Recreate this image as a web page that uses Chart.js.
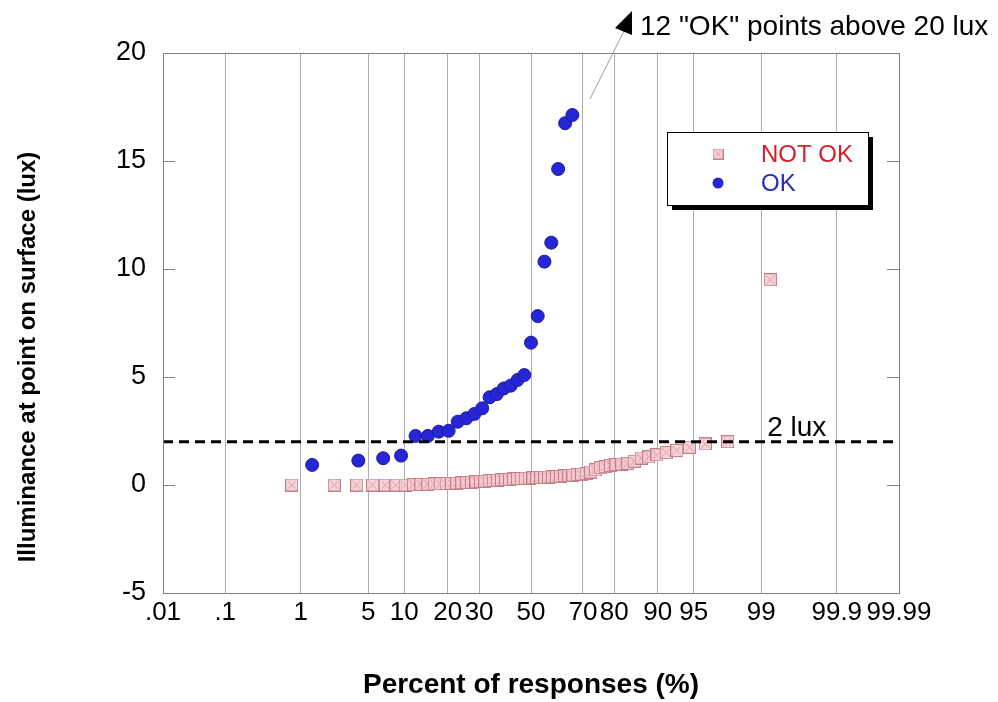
<!DOCTYPE html>
<html>
<head>
<meta charset="utf-8">
<script src="https://cdn.jsdelivr.net/npm/chart.js@4.4.1/dist/chart.umd.min.js"></script>
<style>
  html, body { margin: 0; padding: 0; background: #fff; }
  #wrap { width: 998px; height: 702px; }
</style>
</head>
<body>
<div id="wrap"><canvas id="chart" width="998" height="702"></canvas></div>
<script>
// ===============================
// DATA
// ===============================
const xTickPercents = [0.01, 0.1, 1, 5, 10, 20, 30, 50, 70, 80, 90, 95, 99, 99.9, 99.99];
const xTickLabels   = [".01", ".1", "1", "5", "10", "20", "30", "50", "70", "80", "90", "95", "99", "99.9", "99.99"];
const yTicks = [-5, 0, 5, 10, 15, 20];

// "NOT OK" responses (percent rank, lux)
const notOkPct = [
  0.78, 2.34, 3.91, 5.47, 7.03, 8.59, 10.16, 11.72, 13.28, 14.84,
  16.41, 17.97, 19.53, 21.09, 22.66, 24.22, 25.78, 27.34, 28.91, 30.47,
  32.03, 33.59, 35.16, 36.72, 38.28, 39.84, 41.41, 42.97, 44.53, 46.09,
  47.66, 49.22, 50.78, 52.34, 53.91, 55.47, 57.03, 58.59, 60.16, 61.72,
  63.28, 64.84, 66.41, 67.97, 69.53, 71.09, 72.66, 74.22, 75.78, 77.34,
  78.91, 80.47, 82.03, 83.59, 85.16, 86.72, 88.28, 89.84, 91.41, 92.97,
  94.53, 96.09, 97.66, 99.22
];
const notOkLux = [
  0, 0, 0, 0, 0, 0, 0, 0.02, 0.03, 0.04,
  0.05, 0.06, 0.07, 0.08, 0.09, 0.10, 0.12, 0.13, 0.15, 0.17,
  0.18, 0.20, 0.21, 0.22, 0.24, 0.25, 0.26, 0.28, 0.29, 0.30,
  0.31, 0.32, 0.33, 0.34, 0.35, 0.36, 0.37, 0.38, 0.39, 0.40,
  0.42, 0.44, 0.46, 0.48, 0.50, 0.53, 0.60, 0.70, 0.80, 0.85,
  0.90, 0.95, 0.97, 1.00, 1.10, 1.25, 1.30, 1.40, 1.50, 1.60,
  1.75, 1.90, 2.00, 9.50
];

// "OK" responses (12 more points above 20 lux are off the chart)
const okPct = [
  1.35, 4.05, 6.76, 9.46, 12.16, 14.86, 17.57, 20.27, 22.97, 25.68,
  28.38, 31.08, 33.78, 36.49, 39.19, 41.89, 44.59, 47.30, 50.00, 52.70,
  55.41, 58.11, 60.81, 63.51, 66.22
];
const okLux = [
  0.93, 1.13, 1.24, 1.36, 2.27, 2.27, 2.47, 2.51, 2.93, 3.09,
  3.29, 3.55, 4.06, 4.21, 4.47, 4.60, 4.86, 5.09, 6.59, 7.82,
  10.34, 11.22, 14.63, 16.75, 17.13
];

const thresholdLux = 2;

// ===============================
// HELPERS
// ===============================
// inverse normal CDF (Acklam) -> probability scale
function zOf(pct) {
  const p = pct / 100;
  const a = [-3.969683028665376e+01, 2.209460984245205e+02, -2.759285104469687e+02, 1.383577518672690e+02, -3.066479806614716e+01, 2.506628277459239e+00];
  const b = [-5.447609879822406e+01, 1.615858368580409e+02, -1.556989798598866e+02, 6.680131188771972e+01, -1.328068155288572e+01];
  const c = [-7.784894002430293e-03, -3.223964580411365e-01, -2.400758277161838e+00, -2.549732539343734e+00, 4.374664141464968e+00, 2.938163982698783e+00];
  const d = [7.784695709041462e-03, 3.224671290700398e-01, 2.445134137142996e+00, 3.754408661907416e+00];
  const pl = 0.02425;
  let q, r;
  if (p < pl) {
    q = Math.sqrt(-2 * Math.log(p));
    return (((((c[0]*q+c[1])*q+c[2])*q+c[3])*q+c[4])*q+c[5]) / ((((d[0]*q+d[1])*q+d[2])*q+d[3])*q+1);
  }
  if (p > 1 - pl) {
    q = Math.sqrt(-2 * Math.log(1 - p));
    return -(((((c[0]*q+c[1])*q+c[2])*q+c[3])*q+c[4])*q+c[5]) / ((((d[0]*q+d[1])*q+d[2])*q+d[3])*q+1);
  }
  q = p - 0.5; r = q * q;
  return (((((a[0]*r+a[1])*r+a[2])*r+a[3])*r+a[4])*r+a[5])*q / (((((b[0]*r+b[1])*r+b[2])*r+b[3])*r+b[4])*r+1);
}

function makeBoxX(size) {
  const cv = document.createElement("canvas");
  cv.width = size; cv.height = size;
  const g = cv.getContext("2d");
  g.fillStyle = "rgba(247,204,210,0.85)";
  g.fillRect(0.5, 0.5, size - 1, size - 1);
  g.strokeStyle = "#c47e88";
  g.lineWidth = 1;
  g.strokeRect(0.5, 0.5, size - 1, size - 1);
  g.beginPath();
  g.moveTo(2.5, 2.5); g.lineTo(size - 2.5, size - 2.5);
  g.moveTo(size - 2.5, 2.5); g.lineTo(2.5, size - 2.5);
  g.strokeStyle = "#d5959e";
  g.stroke();
  return cv;
}

const boxX = makeBoxX(13);
const boxXSmall = makeBoxX(11);
const X_MIN = zOf(xTickPercents[0]);
const X_MAX = zOf(xTickPercents[xTickPercents.length - 1]);
const FONT = '"Liberation Sans", Arial, Helvetica, sans-serif';

// ===============================
// EXTRA DRAWING (frame, ticks, legend, notes)
// ===============================
const decorations = {
  id: "decorations",
  afterDatasetsDraw(chart) {
    const { ctx, chartArea: ca, scales } = chart;
    const ys = scales.y;
    ctx.save();
    // frame
    ctx.strokeStyle = "#808080";
    ctx.lineWidth = 1;
    ctx.strokeRect(Math.round(ca.left) + 0.5, Math.round(ca.top) + 0.5,
                   Math.round(ca.right - ca.left), Math.round(ca.bottom - ca.top));
    // inward y ticks on both sides
    ctx.beginPath();
    yTicks.slice(1, -1).forEach(v => {
      const py = Math.round(ys.getPixelForValue(v)) + 0.5;
      ctx.moveTo(ca.left, py); ctx.lineTo(ca.left + 12, py);
      ctx.moveTo(ca.right - 12, py); ctx.lineTo(ca.right, py);
    });
    ctx.stroke();

    // y axis title
    ctx.save();
    ctx.translate(28, 357);
    ctx.rotate(-Math.PI / 2);
    ctx.fillStyle = "#000";
    ctx.font = "bold 24px " + FONT;
    ctx.textAlign = "center";
    ctx.textBaseline = "middle";
    ctx.fillText("Illuminance at point on surface (lux)", 0, 0);
    ctx.restore();

    // "2 lux"
    ctx.fillStyle = "#000";
    ctx.font = "28px " + FONT;
    ctx.textAlign = "left";
    ctx.textBaseline = "alphabetic";
    ctx.fillText("2 lux", scales.x.getPixelForValue(zOf(99)) + 6, ys.getPixelForValue(thresholdLux) - 6);

    // legend box
    const lx = 667, ly = 132, lw = 201, lh = 73;
    ctx.fillStyle = "#000";
    ctx.fillRect(lx + 5, ly + 5, lw, lh);
    ctx.fillStyle = "#fff";
    ctx.fillRect(lx, ly, lw, lh);
    ctx.strokeStyle = "#000";
    ctx.lineWidth = 1;
    ctx.strokeRect(lx + 0.5, ly + 0.5, lw, lh);
    ctx.drawImage(boxXSmall, 718 - 5.5, 154 - 5.5);
    ctx.beginPath();
    ctx.arc(718, 183, 5.5, 0, Math.PI * 2);
    ctx.fillStyle = "#2525d8";
    ctx.fill();
    ctx.font = "24px " + FONT;
    ctx.fillStyle = "#d3202c";
    ctx.fillText("NOT OK", 761, 162);
    ctx.fillStyle = "#2a2abf";
    ctx.fillText("OK", 761, 191);

    // note about off-chart points
    ctx.strokeStyle = "#999";
    ctx.lineWidth = 1;
    ctx.beginPath();
    ctx.moveTo(590, 99); ctx.lineTo(624, 31);
    ctx.stroke();
    ctx.fillStyle = "#000";
    ctx.beginPath();
    ctx.moveTo(632, 11); ctx.lineTo(632, 35); ctx.lineTo(615, 28);
    ctx.closePath();
    ctx.fill();
    ctx.font = "28px " + FONT;
    ctx.fillText('12 "OK" points above 20 lux', 640, 35);
    ctx.restore();
  }
};

// ===============================
// CHART
// ===============================
Chart.defaults.font.family = FONT;
Chart.defaults.color = "#000";

new Chart(document.getElementById("chart"), {
  type: "scatter",
  data: {
    datasets: [
      {
        label: "2 lux",
        type: "line",
        data: [{ x: X_MIN, y: thresholdLux }, { x: X_MAX, y: thresholdLux }],
        borderColor: "#000",
        borderWidth: 3,
        borderDash: [10, 6],
        pointRadius: 0,
        fill: false,
        order: 0
      },
      {
        label: "OK",
        data: okPct.map((p, i) => ({ x: zOf(p), y: okLux[i] })),
        pointStyle: "circle",
        pointRadius: 6.5,
        backgroundColor: "#2626d6",
        borderColor: "#1b1b9e",
        borderWidth: 1,
        order: 1
      },
      {
        label: "NOT OK",
        data: notOkPct.map((p, i) => ({ x: zOf(p), y: notOkLux[i] })),
        pointStyle: boxX,
        pointRadius: 6.5,
        order: 2
      }
    ]
  },
  options: {
    responsive: false,
    animation: false,
    events: [],
    layout: { padding: { top: 53, right: 99, bottom: 0, left: 0 } },
    plugins: {
      legend: { display: false },
      tooltip: { enabled: false }
    },
    scales: {
      x: {
        type: "linear",
        min: X_MIN,
        max: X_MAX,
        afterBuildTicks: s => { s.ticks = xTickPercents.map(p => ({ value: zOf(p) })); },
        afterFit: s => { s.height = 109; },
        border: { display: false },
        grid: { color: "rgba(0,0,0,0.32)", lineWidth: 1, drawTicks: false },
        ticks: {
          autoSkip: false,
          maxRotation: 0,
          padding: 4,
          font: { size: 26 },
          callback: (v, i) => xTickLabels[i]
        },
        title: {
          display: true,
          text: "Percent of responses (%)",
          font: { size: 28, weight: "bold" },
          padding: { top: 0, bottom: 0 }
        }
      },
      y: {
        min: -5,
        max: 20,
        afterBuildTicks: s => { s.ticks = yTicks.map(v => ({ value: v })); },
        afterFit: s => { s.width = 163; },
        border: { display: false },
        grid: { display: false, drawTicks: false },
        ticks: { padding: 17, font: { size: 27 } }
      }
    }
  },
  plugins: [decorations]
});
</script>
</body>
</html>
